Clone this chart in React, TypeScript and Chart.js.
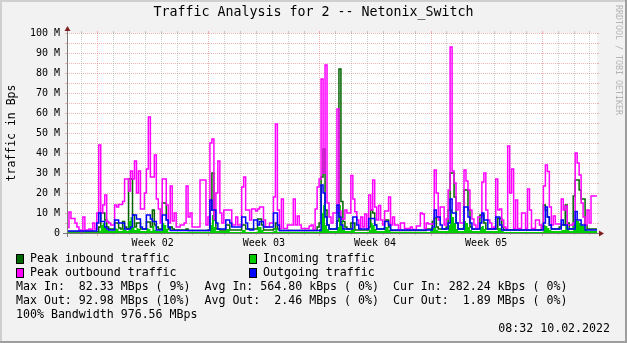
import React, { useEffect, useRef } from 'react';
import { Chart, registerables } from 'chart.js';

Chart.register(...registerables);

// ---------------- data ----------------
const TITLE = 'Traffic Analysis for 2 -- Netonix_Switch';
const Y_TITLE = 'traffic in Bps';
const WATERMARK = 'RRDTOOL / TOBI OETIKER';

const SAMPLE_HOURS = 3; // one value per 3 h
const X_MAX_HOURS = 801; // span of the graph in hours
const FIRST_WEEK_START_HOURS = 45.5; // Mon 10.01.2022 00:00, hours after graph start
const WEEK_TICK_HOURS = [129.5, 297.5, 465.5, 633.5];
const WEEK_LABELS = ['Week 02', 'Week 03', 'Week 04', 'Week 05'];

const Y_TICKS = [0, 10, 20, 30, 40, 50, 60, 70, 80, 90, 100];
const Y_TICK_LABELS = ['0', '10 M', '20 M', '30 M', '40 M', '50 M', '60 M', '70 M', '80 M', '90 M', '100 M'];

// values in MBps
const PEAK_IN = [
  0.5, 0.5, 0.5, 0.5, 0.5, 0.5, 0.5, 0.5, 0.5, 0.5,
  0.5, 0.5, 0.5, 0.5, 0.5, 0.5, 0.5, 3, 10, 10,
  6.5, 3, 2, 2, 2, 5, 5, 2.5, 2, 5.7,
  3, 2, 27, 27, 9, 3, 5, 5, 2, 2,
  2, 5.5, 5.5, 3, 11.5, 4, 3, 2, 2, 15,
  15, 6.5, 2, 3, 2, 1.5, 1.5, 1.5, 1.5, 1.5,
  1.5, 2, 1.2, 1.2, 1.2, 1.2, 1.2, 1.2, 1.2, 1.2,
  1.2, 1.2, 1.5, 11.5, 30, 6.5, 2, 2, 1.5, 1.5,
  1.5, 4, 4, 1.5, 1.5, 1.5, 1.5, 1.5, 1.5, 4,
  4, 2, 2, 2, 2, 2, 2, 7, 7, 4,
  1.5, 1.5, 1.5, 1.5, 1.5, 2, 5, 2, 1.2, 1.2,
  1.2, 1.2, 1.2, 1.2, 1.2, 1.2, 1.2, 1.2, 1.2, 1.2,
  1.2, 1.2, 1.2, 1.2, 1.2, 1.2, 1.2, 3, 5, 28,
  42, 11.5, 4, 2, 2, 2, 2, 6, 82, 15.7,
  5.7, 3, 2, 2, 5, 5, 1.5, 1.5, 1.5, 1.5,
  1.5, 1.5, 1.5, 3, 11.5, 10, 4, 2, 2, 2,
  2, 6.5, 6.5, 3, 1.2, 1.2, 1.2, 1.2, 1.2, 1.2,
  1.2, 1.2, 1.2, 1.2, 1.2, 1.2, 1.2, 1.2, 1.2, 1.2,
  1.2, 1.2, 2, 2, 2, 5.7, 7.5, 3, 2, 2,
  2, 2, 3, 11.5, 30, 30, 18, 5, 2, 2,
  2, 21.5, 21.5, 11.5, 3, 2, 2, 2, 2, 9,
  9, 5, 2, 2, 2, 2, 2, 2, 7.3, 7.3,
  3, 1.5, 1.5, 1.5, 1.5, 1.5, 1.5, 1.5, 1.5, 1.5,
  1.5, 1.5, 1.5, 1.5, 1.5, 1.5, 1.5, 1.5, 1.5, 1.5,
  3, 14, 11.5, 8, 4, 2, 2, 2, 2, 3,
  4, 4, 14, 5, 2, 2, 18.5, 26.5, 26.5, 21.5,
  17, 17, 4, 2, 2, 2, 2,
];

const INCOMING = [
  0.3, 0.3, 0.3, 0.3, 0.3, 0.3, 0.3, 0.3, 0.3, 0.3,
  0.3, 0.3, 0.3, 0.3, 0.3, 0.3, 0.3, 1, 4, 5,
  3, 1.5, 1, 1, 1, 2.5, 2, 1, 1, 2.5,
  1.5, 1, 6, 8, 3, 1.5, 2.5, 2, 1, 1,
  1, 2.5, 2, 1, 3.5, 1.5, 1, 1, 1, 5,
  4, 2, 0.5, 0.5, 0.5, 0.5, 0.5, 0.5, 0.5, 0.5,
  0.5, 0.5, 0.5, 0.5, 0.5, 0.5, 0.5, 0.5, 0.5, 0.5,
  0.5, 0.5, 0.5, 4, 9, 3, 1, 1, 1, 1,
  1, 2, 2, 0.5, 0.5, 0.5, 0.5, 0.5, 0.5, 1.5,
  1.5, 0.5, 0.5, 0.5, 0.5, 0.5, 0.5, 3, 3, 1.5,
  0.5, 0.5, 0.5, 0.5, 0.5, 1, 2.5, 0.5, 0.5, 0.5,
  0.5, 0.5, 0.5, 0.5, 0.5, 0.5, 0.5, 0.5, 0.5, 0.5,
  0.5, 0.5, 0.5, 0.5, 0.5, 0.5, 0.5, 0.5, 2, 10,
  14, 4, 2, 1, 1, 1, 1, 3, 14, 6,
  2.5, 1, 1, 1, 2.5, 2, 0.5, 0.5, 0.5, 0.5,
  0.5, 0.5, 0.5, 1.5, 5, 4, 2, 1, 1, 1,
  1, 3, 3, 1.5, 0.5, 0.5, 0.5, 0.5, 0.5, 0.5,
  0.5, 0.5, 0.5, 0.5, 0.5, 0.5, 0.5, 0.5, 0.5, 0.5,
  0.5, 0.5, 0.5, 0.5, 1.5, 2.5, 3, 1.5, 1, 1,
  1, 1, 1, 4, 12, 8, 5, 2, 1, 1,
  1, 6, 5, 3, 1.5, 1, 1, 1, 1, 3,
  3.5, 2, 1, 1, 1, 1, 1, 1, 2.5, 2.5,
  1, 0.5, 0.5, 0.5, 0.5, 0.5, 0.5, 0.5, 0.5, 0.5,
  0.5, 0.5, 0.5, 0.5, 0.5, 0.5, 0.5, 0.5, 0.5, 0.5,
  0.5, 4, 3.5, 2.5, 1.5, 1, 1, 1, 1, 1,
  1.5, 1.5, 4, 2, 1, 1, 5, 7, 6, 5,
  4, 3.5, 1.5, 1, 1, 1, 1,
];

const PEAK_OUT = [
  2.8, 2.8, 10.5, 7.3, 7.3, 5, 3, 1.5, 0.7, 8,
  1.5, 1.5, 2, 1.5, 5, 2, 10, 44, 10, 14,
  19, 5.7, 5, 4, 4, 14, 13, 14.3, 14.3, 15.7,
  27, 27, 21, 31, 27, 36, 20, 31, 12, 12,
  20, 32, 58, 28, 28, 39, 17, 12, 5, 27,
  27, 14, 5, 23.5, 6, 10, 3, 3, 4, 4,
  5, 23.5, 8, 10, 3, 3, 3, 3, 26.5, 26.5,
  26.5, 4, 8, 45, 47, 7, 20, 36, 10, 5,
  11.5, 11.5, 11.5, 11.5, 4, 4, 8, 4, 4, 23,
  28, 11.5, 11.5, 6.5, 12, 12, 11, 12, 13, 13,
  6.5, 3, 3, 5, 5, 18, 54.5, 11.5, 2.3, 17,
  2.3, 2.3, 4, 4, 4, 17, 4, 8.5, 4, 2.3,
  2.3, 2.3, 2.3, 3.5, 4, 1.5, 12, 23, 27, 77,
  30, 84, 15, 8, 5, 10, 10, 62, 11, 7,
  7, 11.5, 10, 10, 28.7, 17, 10.6, 6.5, 2.3, 8,
  3, 9.5, 2.3, 19, 11.5, 26.5, 13, 6.5, 13.7, 6.5,
  4, 11, 11, 18, 4, 8, 4, 4, 1.5, 5,
  5, 2.3, 2.3, 2.3, 3, 1.8, 1.8, 3.5, 3.5, 10,
  9.5, 2.3, 5, 4.5, 4.5, 4.5, 31.5, 20, 6.5, 13,
  13, 4, 7, 21.5, 93, 31, 25, 11.5, 15, 5,
  5, 31.5, 26, 21.5, 11.5, 7, 4, 2.3, 8, 8,
  25.5, 30, 11.5, 6.5, 5, 2.3, 3, 27, 11.5, 12,
  6.5, 3, 2.3, 43.5, 20, 32, 2.3, 16.5, 2.3, 2.3,
  10, 10, 2.3, 22, 11.5, 2.3, 2.3, 6.5, 6.5, 4,
  2.3, 23.5, 34, 30.7, 13, 4, 8.5, 4.5, 4.5, 4.5,
  17, 11.5, 13.5, 4, 4, 4, 5, 40, 35, 29,
  15, 8, 4, 11.5, 5, 18.5, 18.5,
];

const OUTGOING = [
  1, 1, 1, 1, 1, 1, 1, 1, 1, 1,
  1, 1, 1, 1, 1, 1, 5, 10, 5.7, 5.7,
  3, 2, 1.5, 1.5, 1.5, 6.5, 6.5, 5, 5, 5,
  2, 2, 2, 3, 9, 9, 7, 7, 3, 2,
  2, 9, 9, 7, 5.7, 5.7, 1.5, 1.5, 1.5, 9,
  9, 6.5, 3, 1.2, 1.2, 1.2, 1.2, 1.2, 1.2, 1.2,
  1.2, 1.2, 1.2, 1.2, 1.2, 1.2, 1.2, 1.2, 1.2, 1.2,
  1.2, 1.2, 1.2, 16.5, 11.5, 11.5, 5, 2, 2, 2,
  2, 6.5, 6.5, 5, 3, 3, 3, 3, 3, 8,
  8, 5, 2, 1.5, 1.5, 6.5, 6.5, 4, 5.7, 5.7,
  3, 3, 3, 3, 3, 10, 10, 4, 1.2, 1.2,
  1.2, 1.2, 1.2, 1.2, 1.2, 1.2, 1.2, 1.2, 1.2, 1.2,
  1.2, 1.2, 1.2, 1.2, 1.2, 1.2, 1.2, 1.2, 1.2, 24,
  20, 8, 4, 2, 2, 2, 2, 14, 8, 4,
  2, 2, 2, 2, 2, 8, 8, 4, 2, 2,
  2, 2, 2, 7.3, 7.3, 7.3, 4, 2, 2, 2,
  2, 5.7, 5.7, 4, 1.5, 1.5, 1.5, 1.5, 1.5, 1.5,
  1.5, 1.5, 1.5, 1.5, 1.5, 1.5, 1.5, 1.5, 1.5, 1.5,
  1.5, 1.5, 1.5, 1.5, 1.5, 3, 11.5, 8, 8, 4,
  2, 2, 2, 5, 17, 10, 10, 5, 2, 2,
  2, 13, 13, 8, 5, 2, 2, 2, 2, 5,
  10, 6.5, 6.5, 2, 2, 2, 2, 8, 8, 4,
  1.5, 1.5, 1.5, 1.5, 1.5, 1.5, 1.5, 1.5, 1.5, 1.5,
  1.5, 1.5, 1.5, 1.5, 1.5, 1.5, 1.5, 1.5, 1.5, 1.5,
  1.5, 5, 13, 8, 4, 2, 2, 2, 2, 2,
  6.5, 4, 4, 2, 2, 2, 2, 10.7, 6.5, 6.5,
  4, 4, 1.5, 1.5, 1.5, 1.5, 1.5,
];

const SERIES_LABELS = ['Peak inbound traffic', 'Incoming traffic', 'Peak outbound traffic', 'Outgoing traffic'];
const SERIES_COLORS = ['#006600', '#00cc00', '#ff00ff', '#0000ff'];

const STAT_LINES = [
  'Max In:  82.33 MBps ( 9%)  Avg In: 564.80 kBps ( 0%)  Cur In: 282.24 kBps ( 0%)',
  'Max Out: 92.98 MBps (10%)  Avg Out:  2.46 MBps ( 0%)  Cur Out:  1.89 MBps ( 0%)',
  '100% Bandwidth 976.56 MBps',
];
const TIMESTAMP = '08:32 10.02.2022';

// ---------------- drawing ----------------
const MONO = '"DejaVu Sans Mono", monospace';
const W = 627;
const H = 343;

const toPoints = (vals: number[]) => {
  const pts = vals.map((v, i) => ({ x: i * SAMPLE_HOURS, y: v }));
  pts.push({ x: vals.length * SAMPLE_HOURS, y: vals[vals.length - 1] });
  return pts;
};

const GRID_MINOR = 'rgba(143,143,143,0.45)';
const GRID_MAJOR = 'rgba(222,79,79,0.42)';

const rrdPlugin = {
  id: 'rrdLook',
  beforeDraw(chart: any) {
    const { ctx, chartArea: a } = chart;
    ctx.save();
    ctx.fillStyle = '#f2f2f2';
    ctx.fillRect(0, 0, W, H);
    ctx.fillStyle = '#cfcfcf';
    ctx.fillRect(0, 0, W, 2);
    ctx.fillRect(0, 0, 2, H);
    ctx.fillStyle = '#9e9e9e';
    ctx.fillRect(0, H - 2, W, 2);
    ctx.fillRect(W - 2, 0, 2, H);
    ctx.fillStyle = '#ffffff';
    ctx.fillRect(a.left, a.top, a.right - a.left, a.bottom - a.top);
    ctx.restore();
  },
  beforeDatasetsDraw(chart: any) {
    const { ctx, chartArea: a, scales } = chart;
    const xs = scales.x;
    const ys = scales.y;
    ctx.save();
    ctx.lineWidth = 1;
    for (let v = 5; v <= 100; v += 5) {
      const py = Math.round(ys.getPixelForValue(v)) + 0.5;
      ctx.strokeStyle = GRID_MAJOR;
      ctx.setLineDash([]);
      ctx.beginPath();
      ctx.moveTo(a.left - 2, py);
      ctx.lineTo(a.left, py);
      ctx.moveTo(a.right, py);
      ctx.lineTo(a.right + 2, py);
      ctx.stroke();
      ctx.setLineDash([1, 1]);
      ctx.beginPath();
      ctx.moveTo(a.left, py);
      ctx.lineTo(a.right, py);
      ctx.stroke();
    }
    for (let h = FIRST_WEEK_START_HOURS - 24; h < X_MAX_HOURS; h += 24) {
      const px = Math.round(xs.getPixelForValue(h)) + 0.5;
      const major = Math.abs(((h - FIRST_WEEK_START_HOURS) % 168 + 168) % 168) < 0.01;
      ctx.strokeStyle = major ? GRID_MAJOR : GRID_MINOR;
      ctx.setLineDash([]);
      ctx.beginPath();
      ctx.moveTo(px, a.top - 2);
      ctx.lineTo(px, a.top);
      ctx.moveTo(px, a.bottom);
      ctx.lineTo(px, a.bottom + (major ? 3 : 2));
      ctx.stroke();
      ctx.setLineDash([1, 1]);
      ctx.beginPath();
      ctx.moveTo(px, a.top);
      ctx.lineTo(px, a.bottom);
      ctx.stroke();
    }
    ctx.restore();
  },
  afterDatasetsDraw(chart: any) {
    const { ctx, chartArea: a } = chart;
    ctx.save();
    ctx.strokeStyle = '#7a7a7a';
    ctx.lineWidth = 1;
    ctx.setLineDash([]);
    ctx.beginPath();
    ctx.moveTo(a.left - 4, a.bottom + 0.5);
    ctx.lineTo(a.right + 4, a.bottom + 0.5);
    ctx.moveTo(a.left + 0.5, a.bottom + 4);
    ctx.lineTo(a.left + 0.5, a.top - 4);
    ctx.stroke();
    ctx.fillStyle = '#801f1f';
    ctx.beginPath();
    ctx.moveTo(a.right + 2, a.bottom - 3 + 0.5);
    ctx.lineTo(a.right + 2, a.bottom + 3 + 0.5);
    ctx.lineTo(a.right + 7, a.bottom + 0.5);
    ctx.closePath();
    ctx.fill();
    ctx.beginPath();
    ctx.moveTo(a.left - 3 + 0.5, a.top - 2);
    ctx.lineTo(a.left + 3 + 0.5, a.top - 2);
    ctx.lineTo(a.left + 0.5, a.top - 7);
    ctx.closePath();
    ctx.fill();
    ctx.restore();
  },
  afterDraw(chart: any) {
    const { ctx, chartArea: a } = chart;
    ctx.save();
    ctx.fillStyle = '#000';
    ctx.textBaseline = 'middle';
    ctx.font = `13.3px ${MONO}`;
    ctx.textAlign = 'center';
    ctx.fillText(TITLE, W / 2, 13);
    ctx.save();
    ctx.font = `11.5px ${MONO}`;
    ctx.translate(12, (a.top + a.bottom) / 2);
    ctx.rotate(-Math.PI / 2);
    ctx.fillText(Y_TITLE, 0, 0);
    ctx.restore();
    ctx.save();
    ctx.fillStyle = '#b4b4b4';
    ctx.font = `8.3px ${MONO}`;
    ctx.textAlign = 'left';
    ctx.translate(618, 5);
    ctx.rotate(Math.PI / 2);
    ctx.fillText(WATERMARK, 0, 0);
    ctx.restore();
    ctx.font = `11.6px ${MONO}`;
    ctx.textAlign = 'left';
    const boxX = [16, 249];
    const textX = [30, 263];
    const rowY = [259, 273];
    SERIES_LABELS.forEach((label, i) => {
      const col = i % 2;
      const row = Math.floor(i / 2);
      const bx = boxX[col];
      const by = rowY[row] - 5;
      ctx.fillStyle = SERIES_COLORS[i];
      ctx.fillRect(bx, by, 8, 10);
      ctx.strokeStyle = '#000';
      ctx.lineWidth = 1;
      ctx.strokeRect(bx + 0.5, by + 0.5, 7, 9);
      ctx.fillStyle = '#000';
      ctx.fillText(label, textX[col], rowY[row]);
    });
    STAT_LINES.forEach((line, i) => {
      ctx.fillText(line, 16, 287 + i * 14);
    });
    ctx.textAlign = 'right';
    ctx.fillText(TIMESTAMP, 610, 329);
    ctx.restore();
  },
};

export default function App() {
  const ref = useRef<HTMLCanvasElement | null>(null);
  useEffect(() => {
    document.body.style.margin = '0';
    const canvas = ref.current;
    if (!canvas) return;
    const stepLine = (label: string, values: number[], color: string, order: number) => ({
      label,
      data: toPoints(values),
      borderColor: color,
      backgroundColor: color,
      borderWidth: 1.5,
      stepped: 'after' as const,
      fill: false,
      pointRadius: 0,
      order,
    });
    const chart = new Chart(canvas, {
      type: 'line',
      data: {
        datasets: [
          stepLine(SERIES_LABELS[0], PEAK_IN, SERIES_COLORS[0], 4),
          {
            label: SERIES_LABELS[1],
            data: toPoints(INCOMING),
            borderColor: 'rgba(0,0,0,0)',
            backgroundColor: SERIES_COLORS[1],
            borderWidth: 0,
            stepped: 'after' as const,
            fill: 'origin',
            pointRadius: 0,
            order: 3,
          },
          stepLine(SERIES_LABELS[2], PEAK_OUT, SERIES_COLORS[2], 2),
          stepLine(SERIES_LABELS[3], OUTGOING, SERIES_COLORS[3], 1),
        ] as any,
      },
      options: {
        animation: false,
        responsive: false,
        devicePixelRatio: 1,
        events: [],
        layout: { padding: { left: 0, right: 30, top: 33, bottom: 0 } },
        plugins: {
          legend: { display: false },
          title: { display: false },
          tooltip: { enabled: false },
        },
        scales: {
          x: {
            type: 'linear',
            min: 0,
            max: X_MAX_HOURS,
            grid: { display: false, drawTicks: false },
            border: { display: false },
            afterBuildTicks: (s: any) => {
              s.ticks = WEEK_TICK_HOURS.map((value) => ({ value }));
            },
            afterFit: (s: any) => {
              s.height = 110;
            },
            ticks: {
              autoSkip: false,
              maxRotation: 0,
              padding: 4,
              color: '#000',
              font: { family: MONO, size: 10 },
              callback: (_v: any, i: number) => WEEK_LABELS[i],
            },
          },
          y: {
            type: 'linear',
            min: 0,
            max: 100,
            grid: { display: false, drawTicks: false },
            border: { display: false },
            afterBuildTicks: (s: any) => {
              s.ticks = Y_TICKS.map((value) => ({ value }));
            },
            afterFit: (s: any) => {
              s.width = 67;
            },
            ticks: {
              padding: 7,
              color: '#000',
              font: { family: MONO, size: 10 },
              callback: (v: any) => Y_TICK_LABELS[Y_TICKS.indexOf(Number(v))],
            },
          },
        },
      } as any,
      plugins: [rrdPlugin],
    });
    return () => chart.destroy();
  }, []);
  return <canvas ref={ref} width={W} height={H} style={{ display: 'block', width: W, height: H }} />;
}
